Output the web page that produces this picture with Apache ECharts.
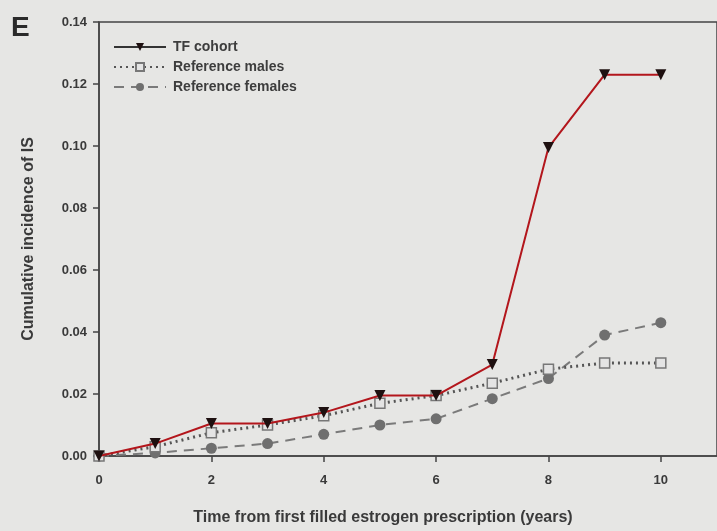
<!DOCTYPE html>
<html><head><meta charset="utf-8">
<script src="https://cdn.jsdelivr.net/npm/echarts@6/dist/echarts.min.js"></script>
<style>html,body{margin:0;padding:0;background:#e6e6e4;}#c{width:717px;height:531px;}</style>
</head><body><div id="c"></div>
<script>
const years = [0,1,2,3,4,5,6,7,8,9,10];
const tfCohort = [0, 0.004, 0.0105, 0.0105, 0.014, 0.0195, 0.0195, 0.0295, 0.0995, 0.123, 0.123];
const refMales = [0, 0.003, 0.0075, 0.010, 0.013, 0.017, 0.0195, 0.0235, 0.028, 0.030, 0.030];
const refFemales = [0, 0.001, 0.0025, 0.004, 0.007, 0.010, 0.012, 0.0185, 0.025, 0.039, 0.043];
const seriesNames = ['TF cohort', 'Reference males', 'Reference females'];

const font = 'Liberation Sans, Arial, sans-serif';
const chart = echarts.init(document.getElementById('c'), null, {renderer:'canvas'});
const pairs = a => years.map((x,i)=>[x,a[i]]);
chart.setOption({
  backgroundColor: '#e6e6e4',
  animation: false,
  graphic: [{type:'text', left: 11, top: 14, style:{text:'E', font:'bold 28px ' + font, fill:'#2a2a2a'}}],
  grid: {left: 99, right: -6, top: 22, bottom: 72, show: true, borderColor: '#444', borderWidth: 1.5, backgroundColor: 'transparent'},
  legend: {
    orient: 'vertical', left: 108, top: 35, itemGap: 6, itemWidth: 52, itemHeight: 10,
    data: [
      {name: seriesNames[0], lineStyle: {color: '#333'}},
      {name: seriesNames[1]},
      {name: seriesNames[2]}
    ],
    textStyle: {fontFamily: font, fontSize: 14, fontWeight: 'bold', color: '#3d3d3d', padding: [0,0,0,2]}
  },
  xAxis: {
    type: 'value', min: 0, max: 11, interval: 2,
    name: 'Time from first filled estrogen prescription (years)',
    nameLocation: 'middle', nameGap: 54,
    nameTextStyle: {fontFamily: font, fontSize: 16, fontWeight: 'bold', color: '#3a3a3a', padding:[0,0,0,-50]},
    axisLine: {lineStyle: {color: '#444', width: 1.5}},
    axisTick: {show: true, length: 6, lineStyle: {color: '#444', width: 1.5}},
    axisLabel: {fontFamily: font, fontSize: 13, fontWeight: 'bold', color: '#3a3a3a', margin: 18, showMaxLabel: false},
    splitLine: {show: false}
  },
  yAxis: {
    type: 'value', min: 0, max: 0.14, interval: 0.02,
    name: 'Cumulative incidence of IS',
    nameLocation: 'middle', nameGap: 62, nameRotate: 90,
    nameTextStyle: {fontFamily: font, fontSize: 16, fontWeight: 'bold', color: '#3a3a3a'},
    axisLine: {show: true, lineStyle: {color: '#444', width: 1.5}},
    axisTick: {show: true, length: 6, lineStyle: {color: '#444', width: 1.5}},
    axisLabel: {fontFamily: font, fontSize: 13, fontWeight: 'bold', color: '#3a3a3a', margin: 12, formatter: v => v.toFixed(2)},
    splitLine: {show: false}
  },
  series: [
    {name: seriesNames[2], type: 'line', data: pairs(refFemales), z: 2,
     lineStyle: {color: '#7a7a7a', width: 2, type: [10,7]},
     symbol: 'circle', symbolSize: 11, itemStyle: {color: '#6f6f6f', borderWidth: 0}},
    {name: seriesNames[1], type: 'line', data: pairs(refMales), z: 3,
     lineStyle: {color: '#555', width: 3, type: [2,4]},
     symbol: 'rect', symbolSize: 10, itemStyle: {color: '#e4e4e4', borderColor: '#777', borderWidth: 1.5}},
    {name: seriesNames[0], type: 'line', data: pairs(tfCohort), z: 4,
     lineStyle: {color: '#b3161c', width: 2},
     symbol: 'triangle', symbolRotate: 180, symbolSize: 11, itemStyle: {color: '#1e1010', borderWidth: 0}}
  ]
});
</script></body></html>
